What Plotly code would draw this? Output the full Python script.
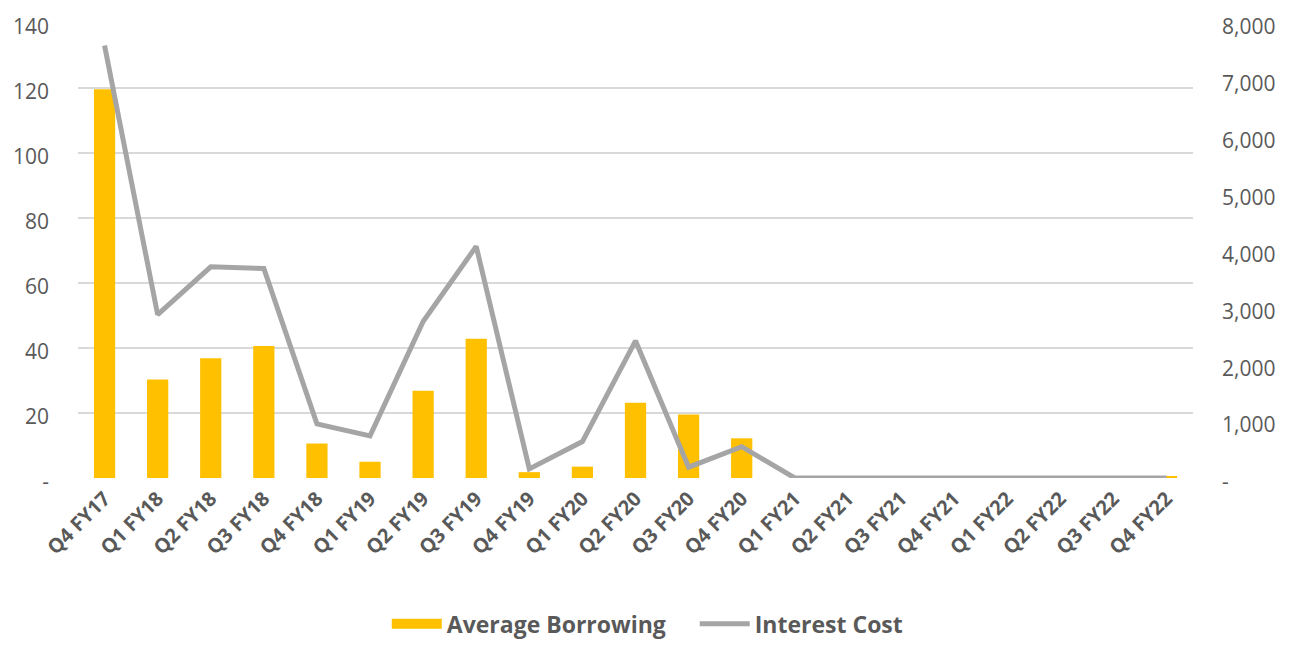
import plotly.graph_objects as go

quarters = ["Q4 FY17", "Q1 FY18", "Q2 FY18", "Q3 FY18", "Q4 FY18", "Q1 FY19", "Q2 FY19",
            "Q3 FY19", "Q4 FY19", "Q1 FY20", "Q2 FY20", "Q3 FY20", "Q4 FY20", "Q1 FY21",
            "Q2 FY21", "Q3 FY21", "Q4 FY21", "Q1 FY22", "Q2 FY22", "Q3 FY22", "Q4 FY22"]
avg_borrowing = [119.5, 30.3, 36.8, 40.6, 10.6, 5.0, 26.8, 42.8, 1.8, 3.5, 23.1, 19.5, 12.2,
                 0, 0, 0, 0, 0, 0, 0, 0.4]
interest_cost = [7600, 2870, 3710, 3680, 950, 740, 2750, 4070, 160, 640, 2410, 190, 550,
                 0, 0, 0, 0, 0, 0, 0, 0]

left_ticks = [0, 20, 40, 60, 80, 100, 120, 140]
left_text = ["-"] + [str(v) for v in left_ticks[1:]]
right_ticks = [0, 1000, 2000, 3000, 4000, 5000, 6000, 7000, 8000]
right_text = ["-"] + [f"{v:,}" for v in right_ticks[1:]]

left_max = 140.2
right_max = left_max / 140 * 8000

font_fam = "Open Sans, sans-serif"
txt_col = "#595959"
bar_col = "#FFC000"
line_col = "#A5A5A5"

fig = go.Figure()
fig.add_trace(go.Bar(x=quarters, y=avg_borrowing, name="Average Borrowing",
                     marker=dict(color=bar_col, line=dict(width=0)), yaxis="y",
                     showlegend=False))
# legend-only swatch drawn as a thick line to mimic the wide rectangle key
fig.add_trace(go.Scatter(x=[None], y=[None], name="Average Borrowing    ", mode="lines",
                         line=dict(color=bar_col, width=14), yaxis="y"))
fig.add_trace(go.Scatter(x=quarters, y=interest_cost, name="Interest Cost", mode="lines",
                         line=dict(color=line_col, width=5), yaxis="y2"))

fig.update_layout(
    width=1294, height=649,
    margin=dict(l=70, r=109, t=14, b=177),
    paper_bgcolor="white", plot_bgcolor="white",
    bargap=0.6,
    font=dict(family=font_fam, color=txt_col, size=22),
    xaxis=dict(tickangle=-45, tickfont=dict(size=20, family=font_fam, color=txt_col, weight="bold"),
               showgrid=False, showline=False, ticks="", automargin=False,
               ticklabelstandoff=4, ticklabeloverflow="allow"),
    yaxis=dict(range=[0, left_max], tickvals=left_ticks, ticktext=left_text,
               showgrid=True, gridcolor="#D9D9D9", gridwidth=1.5, zeroline=False,
               tickfont=dict(size=21), ticks="", automargin=False, ticklabelstandoff=28,
               ticklabelshift=4, ticklabeloverflow="allow"),
    yaxis2=dict(range=[0, right_max], tickvals=right_ticks, ticktext=right_text, overlaying="y",
                side="right", showgrid=False, zeroline=False, tickfont=dict(size=21),
                automargin=False, ticklabelstandoff=28, ticklabelshift=4,
                ticklabeloverflow="allow"),
    legend=dict(orientation="h", x=0.511, xanchor="center", y=-0.32, yanchor="middle",
                font=dict(size=23, weight="bold", color=txt_col), itemwidth=50),
)

fig.write_html("out.html")
